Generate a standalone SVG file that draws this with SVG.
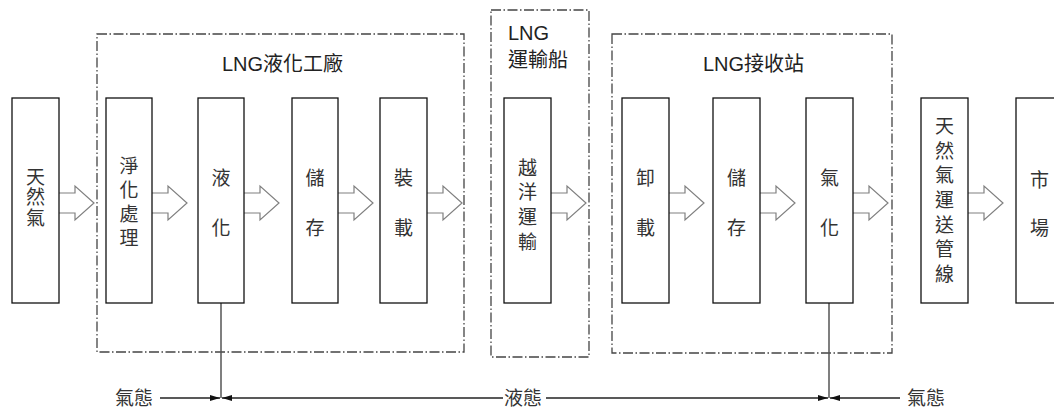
<svg xmlns="http://www.w3.org/2000/svg" width="1054" height="409" viewBox="0 0 1054 409">
<style>
.box{fill:#fff;stroke:#111;stroke-width:1.3}
.grp{fill:none;stroke:#444;stroke-width:1.3;stroke-dasharray:10 2.5 1.5 2.5}
.t{font-family:"Liberation Sans","Noto Sans CJK TC",sans-serif;font-size:19px;fill:#333;text-anchor:middle}
.title{font-family:"Liberation Sans","Noto Sans CJK TC",sans-serif;font-size:20px;fill:#222}
.lbl{font-family:"Liberation Sans","Noto Sans CJK TC",sans-serif;font-size:19px;fill:#333}
.ln{fill:none;stroke:#222;stroke-width:1.3}
</style>
<defs>
<path id="barrow" d="M0,-10 H16 V-17 L35,0 L16,17 V10 H0" fill="#fff" stroke="#808080" stroke-width="1.2"/>
<marker id="ah" markerWidth="10" markerHeight="6" refX="10" refY="3" orient="auto" markerUnits="userSpaceOnUse">
<path d="M0,0 L10,3 L0,6 Z" fill="#111"/>
</marker>
</defs>
<g id="group-plant"><rect class="grp" x="97" y="34" width="367" height="318"/><text class="title" x="222" y="71">LNG液化工廠</text></g>
<g id="group-ship"><rect class="grp" x="491" y="10" width="98" height="347"/><text class="title" x="508" y="40">LNG</text><text class="title" x="508" y="67">運輸船</text></g>
<g id="group-terminal"><rect class="grp" x="612" y="34" width="280" height="319"/><text class="title" x="703" y="71">LNG接收站</text></g>

<g id="connectors">
<use href="#barrow" x="59" y="203"/>
<use href="#barrow" x="152" y="203"/>
<use href="#barrow" x="244" y="203"/>
<use href="#barrow" x="338" y="203"/>
<use href="#barrow" x="427" y="203"/>
<use href="#barrow" x="551" y="203"/>
<use href="#barrow" x="669" y="203"/>
<use href="#barrow" x="760" y="203"/>
<use href="#barrow" x="853" y="203"/>
<use href="#barrow" x="968" y="203"/>
<line x1="221" y1="303" x2="221" y2="398" stroke="#555" stroke-width="1.5"/>
<line x1="829" y1="303" x2="829" y2="398" stroke="#555" stroke-width="1.5"/>
<line class="ln" x1="160" y1="398" x2="220" y2="398" marker-end="url(#ah)"/>
<line class="ln" x1="503" y1="398" x2="222" y2="398" marker-end="url(#ah)"/>
<line class="ln" x1="546" y1="398" x2="828" y2="398" marker-end="url(#ah)"/>
<line class="ln" x1="900" y1="398" x2="830" y2="398" marker-end="url(#ah)"/>
<text class="lbl" x="115" y="405">氣態</text>
<text class="lbl" x="504" y="405">液態</text>
<text class="lbl" x="907" y="405">氣態</text>
</g>

<g id="n-gas"><rect class="box" x="12" y="98" width="47" height="205"/><text class="t" x="35.5" y="184">天</text><text class="t" x="35.5" y="204">然</text><text class="t" x="35.5" y="225">氣</text></g>
<g id="n-purify"><rect class="box" x="106" y="98" width="46" height="205"/><text class="t" x="129" y="173">淨</text><text class="t" x="129" y="197">化</text><text class="t" x="129" y="221">處</text><text class="t" x="129" y="245">理</text></g>
<g id="n-liquefy"><rect class="box" x="198" y="98" width="46" height="205"/><text class="t" x="221" y="185">液</text><text class="t" x="221" y="235">化</text></g>
<g id="n-store1"><rect class="box" x="292" y="98" width="46" height="205"/><text class="t" x="315" y="185">儲</text><text class="t" x="315" y="235">存</text></g>
<g id="n-load"><rect class="box" x="380" y="98" width="47" height="205"/><text class="t" x="403.5" y="185">裝</text><text class="t" x="403.5" y="235">載</text></g>
<g id="n-ocean"><rect class="box" x="504" y="98" width="47" height="205"/><text class="t" x="527.5" y="175">越</text><text class="t" x="527.5" y="199">洋</text><text class="t" x="527.5" y="224">運</text><text class="t" x="527.5" y="249">輸</text></g>
<g id="n-unload"><rect class="box" x="622" y="98" width="47" height="205"/><text class="t" x="645.5" y="185">卸</text><text class="t" x="645.5" y="235">載</text></g>
<g id="n-store2"><rect class="box" x="713" y="98" width="47" height="205"/><text class="t" x="736.5" y="185">儲</text><text class="t" x="736.5" y="235">存</text></g>
<g id="n-gasify"><rect class="box" x="806" y="98" width="47" height="205"/><text class="t" x="829.5" y="185">氣</text><text class="t" x="829.5" y="235">化</text></g>
<g id="n-pipeline"><rect class="box" x="921" y="98" width="47" height="205"/><text class="t" x="944.5" y="133">天</text><text class="t" x="944.5" y="158">然</text><text class="t" x="944.5" y="182">氣</text><text class="t" x="944.5" y="207">運</text><text class="t" x="944.5" y="232">送</text><text class="t" x="944.5" y="256">管</text><text class="t" x="944.5" y="281">線</text></g>
<g id="n-market"><rect class="box" x="1016" y="98" width="47" height="205"/><text class="t" x="1039.5" y="187">市</text><text class="t" x="1039.5" y="235">場</text></g>
</svg>
